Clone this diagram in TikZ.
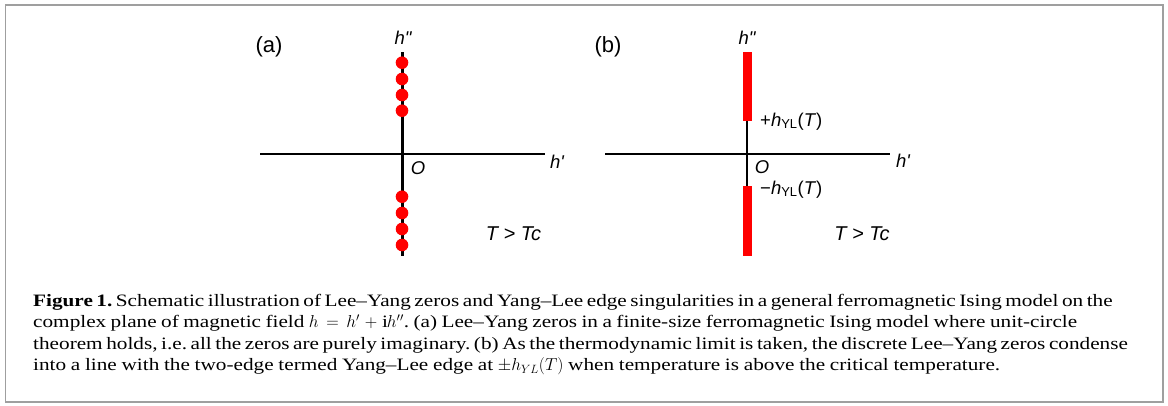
\documentclass[tikz,border=0pt]{standalone}
\usepackage{fontspec}
\setmainfont{Liberation Serif}[FakeStretch=1.22]
\newfontfamily\lab[Ligatures=TeXOff]{Liberation Sans}
\tikzset{
  axisline/.style={line width=2pt, black},
  vaxisline/.style={line width=3pt, black},
  zero/.style={fill=red, draw=none},
  redbar/.style={fill=red, draw=none},
  lbl/.style={font=\lab\fontsize{18.5}{21}\selectfont, inner sep=0pt},
  tlbl/.style={font=\lab\fontsize{20}{23}\selectfont, inner sep=0pt},
  panel/.style={font=\lab\fontsize{22}{25}\selectfont, inner sep=0pt},
  captext/.style={font=\frenchspacing\fontsize{17.4}{21}\selectfont, inner sep=0pt, anchor=base west},
  framebox/.style={draw=gray!75, line width=1.6pt}
}
\begin{document}
\begin{tikzpicture}[x=1pt,y=-1pt]
\useasboundingbox (0,0) rectangle (1168,405);
\draw[framebox] (5.5,5) rectangle (1163,402);

% ---- panel (a)
\coordinate (aL) at (260,154);
\coordinate (aR) at (545,154);
\coordinate (aT) at (402,52);
\coordinate (aB) at (402,256);
\draw[axisline] (aL) -- (aR);
\draw[vaxisline] (aT) -- (aB);
\foreach \y in {62.7,79,95,110.7,196.7,213,229,245}{
  \fill[zero] (402,\y) circle (6.3);
}
\node[panel] (pa) at (269,47) {(a)};
\node[lbl] (ahpp) at (403,38) {\itshape h"};
\node[lbl] (ahp) at (557,162) {\itshape h'};
\node[lbl] (aO) at (418,168) {\itshape O};
\node[tlbl] (aT1) at (513.5,234) {\itshape T > Tc};

% ---- panel (b)
\coordinate (bL) at (605,154);
\coordinate (bR) at (890,154);
\coordinate (bT) at (747,52);
\coordinate (bB) at (747,256);
\draw[axisline] (bL) -- (bR);
\draw[axisline] (bT) -- (bB);
\fill[redbar] (743.3,52) rectangle (751.7,121);
\fill[redbar] (743.3,186) rectangle (751.7,256);
\node[panel] (pb) at (608,47) {(b)};
\node[lbl] (bhpp) at (747,38) {\itshape h"};
\node[lbl] (bhp) at (903,161) {\itshape h'};
\node[lbl] (bO) at (762,167) {\itshape O};
\node[lbl, anchor=base west] (bplus) at (760,126) {+\textit{h}\textsubscript{YL}(\textit{T})};
\node[lbl, anchor=base west] (bminus) at (760,194) {−\textit{h}\textsubscript{YL}(\textit{T})};
\node[tlbl] (bT1) at (862,234) {\itshape T > Tc};

% ---- caption
\node[captext] (c1) at (33,306) {\makebox[1059pt][s]{\textbf{Figure 1.} Schematic illustration of Lee–Yang zeros and Yang–Lee edge singularities in a general ferromagnetic Ising model on the}};
\node[captext] (c2) at (33,327.5) {\makebox[1044pt][s]{complex plane of magnetic field $h\,=\,h'\,+\,\mathrm{i}h''$. (a) Lee–Yang zeros in a finite-size ferromagnetic Ising model where unit-circle}};
\node[captext] (c3) at (33,349) {\makebox[1085pt][s]{theorem holds, i.e. all the zeros are purely imaginary. (b) As the thermodynamic limit is taken, the discrete Lee–Yang zeros condense}};
\node[captext] (c4) at (33,370.5) {\makebox[967pt][s]{into a line with the two-edge termed Yang–Lee edge at $\pm h_{YL}(T)$ when temperature is above the critical temperature.}};
\end{tikzpicture}
\end{document}
